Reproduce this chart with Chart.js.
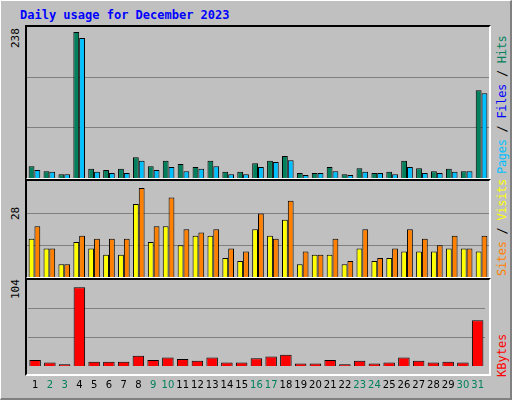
<!DOCTYPE html>
<html><head><meta charset="utf-8">
<script src="https://cdn.jsdelivr.net/npm/chart.js@4"></script>
<style>
body{margin:0;background:#c0c0c0;}
#wrap{position:relative;width:512px;height:400px;background:#c0c0c0;box-sizing:border-box;border-top:1px solid #fff;border-left:1px solid #fff;border-right:2px solid #808080;border-bottom:2px solid #808080;overflow:hidden}
.panel{position:absolute;left:24px;width:466px;box-sizing:border-box;border-top:2px solid #000;border-left:2px solid #000;border-right:2px solid #fff;border-bottom:2px solid #fff}
canvas{display:block}
.t{position:absolute;font-family:"DejaVu Sans Mono",monospace;font-size:12px;white-space:nowrap}
.lrot{transform-origin:0 0;transform:rotate(-90deg)}
</style></head><body>
<div id="wrap">
<div class="t" style="left:19px;top:7px;color:#0000ff;font-weight:bold">Daily usage for December 2023</div>
<div class="panel" style="top:24px;height:155px"><canvas id="c1"></canvas></div>
<div class="panel" style="top:178px;height:100px"><canvas id="c2"></canvas></div>
<div class="panel" style="top:277px;height:98px"></div>
<div style="position:absolute;left:26px;top:279px;width:462px;height:116px"><canvas id="c3"></canvas></div>
<div class="t lrot" style="left:8px;top:47px;font-size:11px">238</div>
<div class="t lrot" style="left:8px;top:219px;font-size:11px">28</div>
<div class="t lrot" style="left:8px;top:298px;font-size:11px">104</div>
<div class="t lrot" style="left:494px;top:173px;font-size:12px;letter-spacing:-0.3px"><span style="color:#00c0ff">Pages</span> / <span style="color:#0000ff">Files</span> / <span style="color:#00805c">Hits</span></div>
<div class="t lrot" style="left:494px;top:275px;font-size:12px;letter-spacing:-0.3px"><span style="color:#ff8000">Sites</span> / <span style="color:#ffff00">Visits</span></div>
<div class="t lrot" style="left:494px;top:376px;font-size:12px;color:#ff0000">KBytes</div>
</div>
<script>
const days=['1','2','3','4','5','6','7','8','9','10','11','12','13','14','15','16','17','18','19','20','21','22','23','24','25','26','27','28','29','30','31'];
const weekend=[2,3,9,10,16,17,23,24,30,31];
const hits=[19,11,6,238,15,13,15,34,19,28,23,18,28,10,10,24,28,36,8,8,18,6,16,8,10,28,16,11,15,11,143];
const pages=[13,10,6,228,10,8,8,28,13,18,11,15,19,6,6,18,26,29,5,8,11,5,10,8,6,18,8,8,10,11,138];
const visits=[12,9,4,11,9,7,7,23,11,16,10,13,13,6,5,15,13,18,4,7,7,4,9,5,6,8,8,8,9,9,8];
const sites=[16,9,4,13,12,12,12,28,16,25,15,14,15,9,8,20,12,24,8,7,12,5,15,6,9,15,12,10,13,9,13];
const kbytes=[8,4.6,2.3,104,5.7,5.7,5.7,13.7,8,11.4,9.1,6.9,11.4,4.6,4.6,10.3,12.6,14.9,3.4,3.4,8,2.3,6.9,3.4,4.6,11.4,6.9,4.6,5.7,4.6,60.6];

function mk(id,w,h,sets,M,showX){
  const cv=document.getElementById(id);cv.width=w;cv.height=h;
  return new Chart(cv,{type:'bar',data:{labels:days,datasets:sets.map(s=>({data:s[0],backgroundColor:s[1],borderColor:'#000',borderWidth:1,borderSkipped:'bottom',categoryPercentage:0.78,barPercentage:1}))},
  options:{responsive:false,animation:false,devicePixelRatio:1,
    layout:{padding:{top:0,bottom:0,left:0,right:0}},
    plugins:{legend:{display:false},tooltip:{enabled:false}},
    scales:{
      x:{display:showX,grid:{display:false},border:{display:false},
         ticks:{padding:5,maxRotation:0,autoSkip:false,font:{family:'DejaVu Sans',size:10},
           color:c=>weekend.includes(c.index+1)?'#00805c':'#000'}},
      y:{min:0,max:M,display:true,border:{display:false},grid:{color:'#808080',lineWidth:1,drawTicks:false},
         ticks:{display:false},afterBuildTicks:a=>{a.ticks=[{value:M/3},{value:2*M/3}];}}
    }}});
}
mk('c1',462,151,[[hits,'#00805c'],[pages,'#00c0ff']],246,false);
mk('c2',462,96,[[visits,'#ffff00'],[sites,'#ff8000']],30.2,false);
mk('c3',462,116,[[kbytes,'#ff0000']],113.7,true);
</script>
</body></html>
